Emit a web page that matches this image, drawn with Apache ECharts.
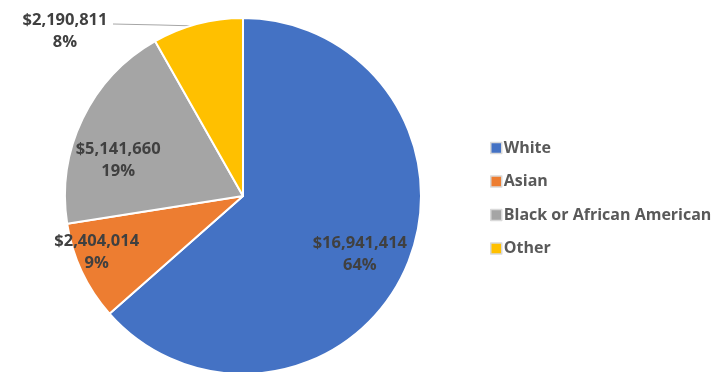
<!DOCTYPE html>
<html><head><meta charset="utf-8">
<script src="https://cdn.jsdelivr.net/npm/echarts@6/dist/echarts.min.js"></script>
<style>html,body{margin:0;padding:0;background:#fff}#c{width:724px;height:372px}</style>
</head><body><div id="c"></div>
<script>
const categories = ['White', 'Asian', 'Black or African American', 'Other'];
const values = [16941414, 2404014, 5141660, 2190811];
const percents = ['64%', '9%', '19%', '8%'];
const colors = ['#4472C4', '#ED7D31', '#A5A5A5', '#FFC000'];

const chart = echarts.init(document.getElementById('c'));
const fmt = v => '$' + v.toLocaleString('en-US');
const labelOffsets = [[33, 20], [-63, 17], [-42, 4], null];

chart.setOption({
  animation: false,
  color: colors,
  legend: {
    orient: 'vertical',
    left: 485,
    top: 132,
    itemWidth: 11,
    itemHeight: 11,
    itemGap: 11.5,
    icon: 'rect',
    itemStyle: {borderColor: '#d9d9d9', borderWidth: 1.5},
    textStyle: {fontFamily: 'Open Sans', fontWeight: 'bold', fontSize: 16, lineHeight: 22, color: '#595959', padding: [0, 0, 0, -3]},
    data: categories
  },
  series: [{
    type: 'pie',
    center: [243, 196],
    radius: 178,
    startAngle: 90,
    clockwise: true,
    itemStyle: {borderColor: '#fff', borderWidth: 2},
    label: {
      position: 'inner',
      fontFamily: 'Open Sans',
      fontWeight: 'bold',
      fontSize: 16.5,
      lineHeight: 22,
      color: '#404040',
      align: 'center',
      formatter: p => fmt(p.value) + '\n' + percents[p.dataIndex]
    },
    labelLine: {show: false},
    labelLayout: function (p) {
      const o = labelOffsets[p.dataIndex];
      if (o) return {dx: o[0], dy: o[1]};
      return {x: 65, y: 31, align: 'center', verticalAlign: 'middle',
              labelLinePoints: [[197, 26], [160, 25], [113, 24]]};
    },
    data: categories.map((c, i) => {
      const d = {name: c, value: values[i]};
      if (i === 3) {
        d.label = {position: 'outside', align: 'center'};
        d.labelLine = {show: true, length: 10, length2: 60, lineStyle: {color: '#A6A6A6', width: 1}};
      }
      return d;
    })
  }]
});
</script></body></html>
